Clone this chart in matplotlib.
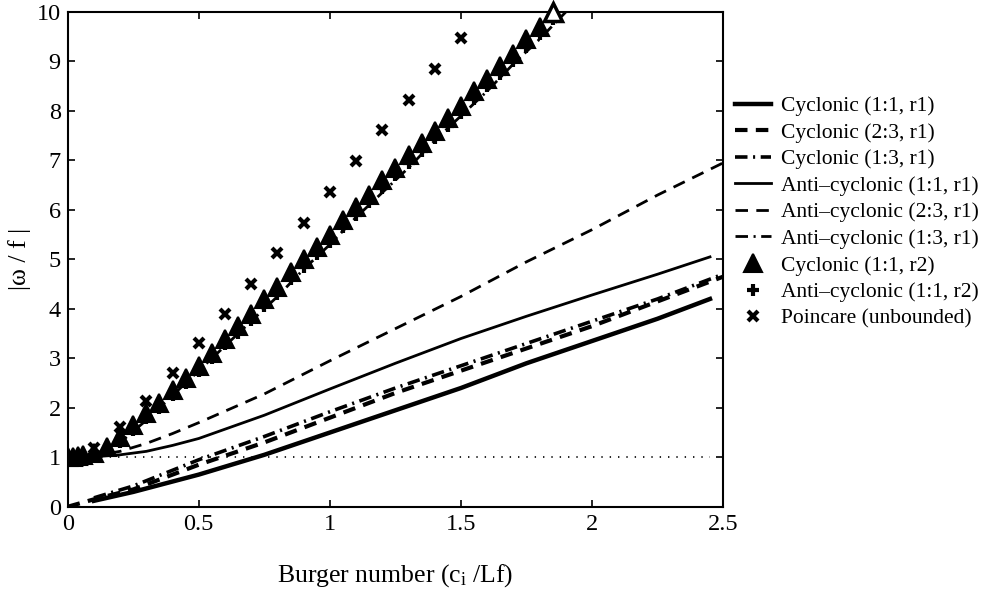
import matplotlib
matplotlib.use("Agg")
import matplotlib.pyplot as plt

plt.rcParams["font.family"] = ["Liberation Serif", "DejaVu Serif"]
plt.rcParams["mathtext.fontset"] = "custom"
plt.rcParams["mathtext.rm"] = "Liberation Serif"
plt.rcParams["mathtext.it"] = "Liberation Serif:italic"
plt.rcParams["lines.scale_dashes"] = False

# --- r1 curves ---
cyc11_x = [0.1, 0.25, 0.5, 0.75, 1.0, 1.25, 1.5, 1.75, 2.0, 2.25, 2.45]
cyc11_y = [0.12, 0.3, 0.65, 1.05, 1.5, 1.95, 2.4, 2.9, 3.35, 3.8, 4.2]

cyc23_x = [0.0, 0.1, 0.25, 0.5, 0.75, 1.0, 1.25, 1.5, 1.75, 2.0, 2.25, 2.5]
cyc23_y = [0.0, 0.15, 0.35, 0.85, 1.3, 1.8, 2.3, 2.75, 3.2, 3.65, 4.15, 4.65]

cyc13_x = [0.1, 0.25, 0.5, 0.75, 1.0, 1.25, 1.5, 1.75, 2.0, 2.25, 2.5]
cyc13_y = [0.18, 0.42, 0.95, 1.42, 1.92, 2.4, 2.85, 3.3, 3.75, 4.2, 4.7]

anti11_x = [0.0, 0.1, 0.2, 0.3, 0.4, 0.5, 0.75, 1.0, 1.25, 1.5, 1.75, 2.0, 2.25, 2.45]
anti11_y = [1.0, 1.01, 1.05, 1.12, 1.24, 1.38, 1.85, 2.38, 2.9, 3.4, 3.85, 4.28, 4.7, 5.05]

anti23_x = [0.0, 0.1, 0.2, 0.3, 0.4, 0.5, 0.75, 1.0, 1.25, 1.5, 1.75, 2.0, 2.25, 2.5]
anti23_y = [1.0, 1.03, 1.12, 1.28, 1.48, 1.7, 2.28, 2.95, 3.6, 4.25, 4.95, 5.6, 6.3, 6.95]

anti13_x = [0.0, 0.1, 0.2, 0.3, 0.4, 0.5, 0.6, 0.7, 0.8, 0.9, 1.0, 1.1,
            1.2, 1.3, 1.4, 1.5, 1.6, 1.7, 1.8, 1.9, 2.0]
anti13_y = [1.0, 1.05, 1.3, 1.75, 2.25, 2.75, 3.25, 3.75, 4.25, 4.8, 5.3, 5.85,
            6.35, 6.85, 7.4, 7.9, 8.4, 8.95, 9.45, 10.0, 10.5]

# --- r2 points ---
r2_x = [0.0, 0.02, 0.04, 0.06, 0.1, 0.15, 0.2, 0.25, 0.3, 0.35, 0.4, 0.45,
        0.5, 0.55, 0.6, 0.65, 0.7, 0.75, 0.8, 0.85, 0.9, 0.95, 1.0, 1.05,
        1.1, 1.15, 1.2, 1.25, 1.3, 1.35, 1.4, 1.45, 1.5, 1.55, 1.6, 1.65,
        1.7, 1.75, 1.8, 1.85]
cyc_r2_y = [1.0, 1.01, 1.02, 1.04, 1.08, 1.2, 1.4, 1.65, 1.9, 2.1, 2.35, 2.6,
            2.85, 3.1, 3.4, 3.65, 3.9, 4.2, 4.45, 4.75, 5.0, 5.25, 5.5, 5.8,
            6.05, 6.3, 6.6, 6.85, 7.1, 7.35, 7.6, 7.85, 8.1, 8.4, 8.65, 8.9,
            9.15, 9.45, 9.7, 10.0]
anti_r2_y = [1.0, 1.0, 1.01, 1.02, 1.05, 1.12, 1.3, 1.55, 1.8, 2.0, 2.25, 2.5,
             2.75, 3.0, 3.28, 3.52, 3.78, 4.05, 4.3, 4.6, 4.85, 5.1, 5.35, 5.65,
             5.9, 6.15, 6.45, 6.7, 6.95, 7.2, 7.45, 7.7, 7.95, 8.25, 8.5, 8.75,
             9.0, 9.3, 9.55, 9.85]

poinc_x = [0.0, 0.1, 0.2, 0.3, 0.4, 0.5, 0.6, 0.7, 0.8, 0.9, 1.0, 1.1,
           1.2, 1.3, 1.4, 1.5]
poinc_y = [1.0, 1.18, 1.61, 2.13, 2.71, 3.30, 3.90, 4.51, 5.12, 5.74, 6.36,
           6.99, 7.61, 8.23, 8.85, 9.48]

ref_x = [0.0, 2.45]
ref_y = [1.0, 1.0]

fig = plt.figure(figsize=(9.96, 5.99), dpi=100)
ax = fig.add_axes([0.068, 0.154, 0.658, 0.826])

ax.plot(cyc11_x, cyc11_y, color="black", lw=3.2, label="Cyclonic (1:1, r1)")
ax.plot(cyc23_x, cyc23_y, color="black", lw=3.0, dashes=(9, 6),
        label="Cyclonic (2:3, r1)")
ax.plot(cyc13_x, cyc13_y, color="black", lw=2.6, dashes=(9, 4, 1.5, 4),
        label="Cyclonic (1:3, r1)")
ax.plot(anti11_x, anti11_y, color="black", lw=2.0, label="Anti\u2013cyclonic (1:1, r1)")
ax.plot(anti23_x, anti23_y, color="black", lw=2.0, dashes=(9, 6),
        label="Anti\u2013cyclonic (2:3, r1)")
ax.plot(anti13_x, anti13_y, color="black", lw=2.0, dashes=(9, 4, 1.5, 4),
        label="Anti\u2013cyclonic (1:3, r1)")

ax.plot(r2_x[:-1], cyc_r2_y[:-1], ls="none", marker="^", ms=13,
        mfc="black", mec="black", mew=1.5, label="Cyclonic (1:1, r2)", zorder=4)
ax.plot(r2_x[-1:], cyc_r2_y[-1:], ls="none", marker="^", ms=13,
        mfc="white", mec="black", mew=2.5, zorder=4, clip_on=False)
ax.plot(r2_x, anti_r2_y, ls="none", marker="+", ms=9, mew=3,
        color="black", label="Anti\u2013cyclonic (1:1, r2)", zorder=3)
ax.plot(poinc_x, poinc_y, ls="none", marker="x", ms=7, mew=3,
        color="black", label="Poincare (unbounded)", zorder=4)

ax.plot(ref_x, ref_y, color="black", lw=1.2, ls=(0, (1, 5)))

ax.set_xlim(0, 2.5)
ax.set_ylim(0, 10)
ax.set_xticks([0, 0.5, 1, 1.5, 2, 2.5])
ax.set_xticklabels(["0", "0.5", "1", "1.5", "2", "2.5"])
ax.set_yticks(range(0, 11))
ax.tick_params(direction="in", length=5, width=1.2, labelsize=17.5,
               top=True, right=True, pad=5)
for sp in ax.spines.values():
    sp.set_linewidth(1.5)

ax.set_xlabel(r"Burger number (c$_{\mathrm{i}}$ /Lf)", fontsize=18.5, labelpad=20)
ax.set_ylabel("|ω / f |", fontsize=18.5, labelpad=4)

leg = ax.legend(loc="upper left", bbox_to_anchor=(0.995, 0.86), frameon=False,
                fontsize=15.5, handlelength=1.7, handletextpad=0.45,
                labelspacing=0.3, borderaxespad=0.3)

fig.savefig("out.png", dpi=100)
